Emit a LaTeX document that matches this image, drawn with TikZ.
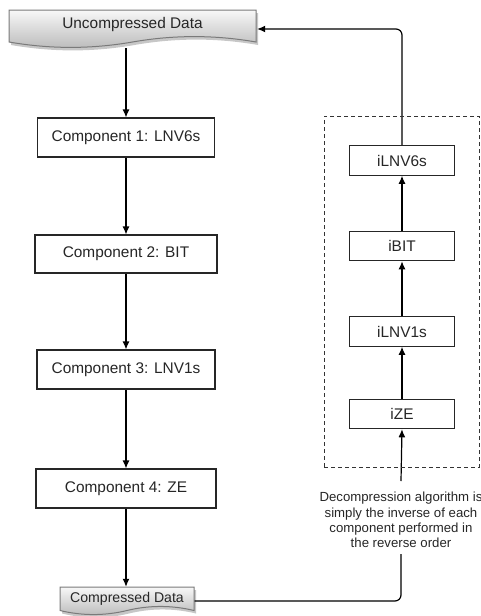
\documentclass[tikz,border=0pt]{standalone}
\usepackage{fontspec}
\setmainfont{Liberation Sans}
\usetikzlibrary{arrows.meta,backgrounds,shadows}
\definecolor{txt}{HTML}{262626}
\definecolor{docedge}{HTML}{7A7A7A}
\definecolor{boxedge}{HTML}{262626}
\begin{document}
\begin{tikzpicture}[x=1pt,y=-1pt,
  every node/.style={text=txt},
  boxfont/.style={font=\fontsize{15.4}{18}\selectfont},
  procbox/.style={draw=boxedge, fill=white, line width=1.1pt, rectangle, boxfont, inner sep=0pt},
  invbox/.style={procbox, minimum width=105, minimum height=29.5},
  docfill/.style={draw=docedge, line width=1pt, top color=black!3, bottom color=black!27,
     drop shadow={shadow xshift=2pt, shadow yshift=-3pt, fill=black, opacity=0.22}},
  anchorbox/.style={rectangle, inner sep=0pt},
  grpbox/.style={draw=black!80, dashed, dash pattern=on 4pt off 3pt, line width=1pt},
  arr/.style={-{Latex[length=8pt,width=7pt]}, line width=1.2pt, black},
  conn/.style={line width=1.2pt, black},
  notefont/.style={font=\fontsize{13.2}{15.3}\selectfont, align=center}
]
\useasboundingbox (0,0) rectangle (481,616);

% document shapes
\path[docfill] (9,10) -- (256,10) -- (256,42)
  .. controls (214.8,34.8) and (173.7,34.8) .. (132.5,42)
  .. controls (91.3,49.2) and (50.2,49.2) .. (9,42) -- cycle;
\path[docfill] (60,587) -- (194,587) -- (194,610.5)
  .. controls (171.7,605.1) and (149.3,605.1) .. (127,610.5)
  .. controls (104.7,615.9) and (82.3,615.9) .. (60,610.5) -- cycle;

\node[anchorbox, minimum width=247, minimum height=38] (ud) at (132.5,29) {};
\node[boxfont] (udtext) at (132.5,24.5) {Uncompressed Data};
\node[anchorbox, minimum width=134, minimum height=28] (cd) at (127,601) {};
\node[font=\fontsize{14.1}{17}\selectfont] (cdtext) at (127,598.5) {Compressed Data};

% compression chain
\node[procbox, minimum width=177, minimum height=39] (c1) at (126,137.5) {Component 1: LNV6s};
\node[procbox, minimum width=182, minimum height=38] (c2) at (126,254) {Component 2: BIT};
\node[procbox, minimum width=178, minimum height=39] (c3) at (126,369.5) {Component 3: LNV1s};
\node[procbox, minimum width=180, minimum height=39] (c4) at (126,488.5) {Component 4: ZE};

% decompression group
\node[grpbox, rectangle, minimum width=155, minimum height=351, inner sep=0pt] (grp) at (401.5,291.5) {};
\node[invbox] (i6) at (402,160.5) {iLNV6s};
\node[invbox] (ib) at (402,246) {iBIT};
\node[invbox] (i1) at (402,331.5) {iLNV1s};
\node[invbox] (iz) at (402,414) {iZE};

\node[notefont, inner xsep=2pt, inner ysep=6pt] (note) at (401,520)
  {Decompression algorithm is\\simply the inverse of each\\component performed in\\the reverse order};

\begin{scope}[on background layer]
  \draw[arr] (c1.north |- ud.south) -- (c1.north);
  \draw[arr] (c1.south) -- (c2.north);
  \draw[arr] (c2.south) -- (c3.north);
  \draw[arr] (c3.south) -- (c4.north);
  \draw[arr] (c4.south) -- (c4.south |- cd.north);
  \draw[conn, rounded corners=6pt] (cd.east) -| (note.south);
  \draw[arr] ([yshift=5pt]note.north) -- (iz.south);
  \draw[arr] (iz.north) -- (i1.south);
  \draw[arr] (i1.north) -- (ib.south);
  \draw[arr] (ib.north) -- (i6.south);
  \draw[arr, rounded corners=6pt, shorten >=1pt] (i6.north) |- (ud.east);
\end{scope}
\end{tikzpicture}
\end{document}
